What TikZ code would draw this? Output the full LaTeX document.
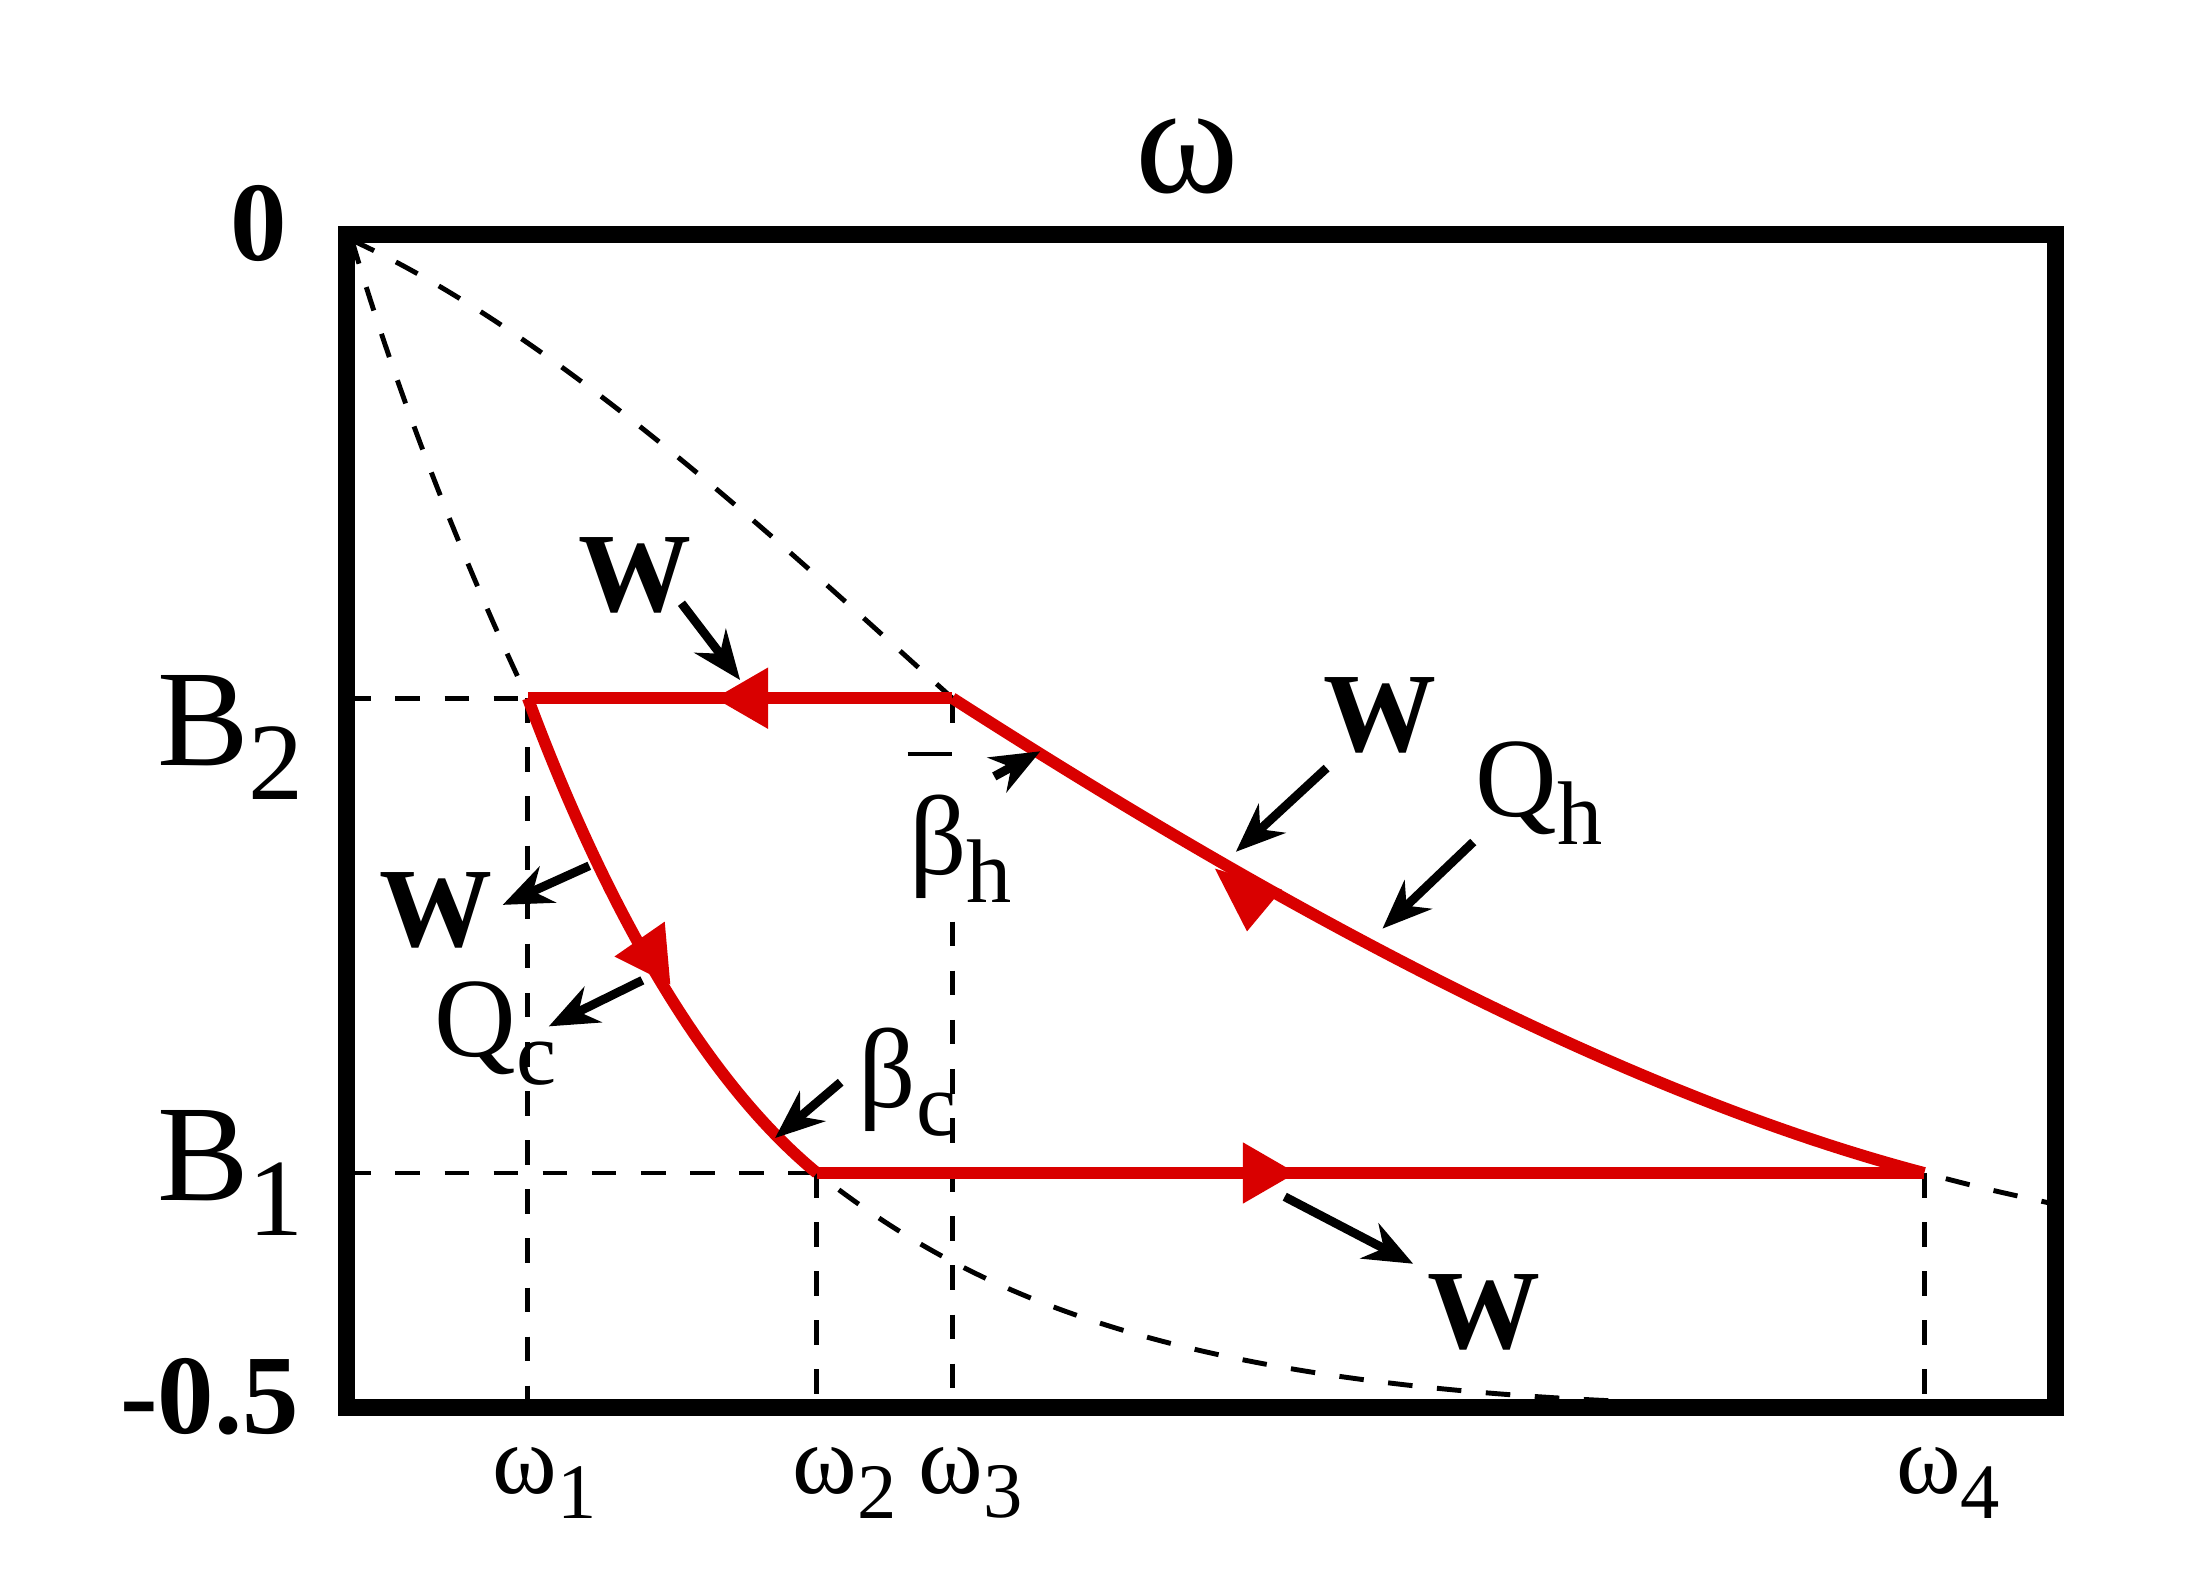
\documentclass[tikz,border=0pt]{standalone}
\usepackage{fontspec}
\setmainfont{Liberation Serif}
\usetikzlibrary{arrows.meta}
\newcommand{\sbs}[1]{\raisebox{-0.25em}{\scalebox{0.8}{#1}}}
\begin{document}
\begin{tikzpicture}[x=0.01cm,y=-0.01cm,
  dsh/.style={line width=1pt,dash pattern=on 5pt off 5pt},
  redl/.style={red!85!black,line width=2.4pt},
  blk/.style={-{Stealth[length=10pt,width=8pt]},line width=1.8pt},
  lab/.style={font=\fontsize{23}{27}\selectfont},
  wl/.style={font=\fontsize{23}{27}\selectfont\bfseries},
  om/.style={font=\fontsize{20}{24}\selectfont},
  tri/.style={fill=red!85!black}]
\useasboundingbox (0,0) rectangle (1569,1134);
% dashed curves
\draw[dsh] (252,172) .. controls (290,300) and (340,420) .. (378,500) .. controls (430,640) and (500,770) .. (585,840) .. controls (700,930) and (850,1000) .. (1250,1006);
\draw[dsh] (252,172) .. controls (400,240) and (560,390) .. (682,500) .. controls (900,640) and (1150,780) .. (1378,840) .. controls (1420,851) .. (1470,862);
% guide dashes
\draw[dsh] (248,500) -- (378,500);
\draw[dsh] (248,840) -- (585,840);
\draw[dsh] (378,500) -- (378,1008);
\draw[dsh] (585,840) -- (585,1008);
\draw[dsh] (682,500) -- (682,530);
\draw[dsh] (682,660) -- (682,1008);
\draw[dsh] (1378,840) -- (1378,1008);
\draw[line width=0.8pt] (650,540) -- (682,540);
% frame
\draw[line width=3.5pt] (248,168) rectangle (1472,1008);
% red cycle
\draw[redl] (378,500) -- (682,500);
\draw[redl] (585,840) -- (1378,840);
\draw[redl] (682,500) .. controls (900,640) and (1150,780) .. (1378,840);
\draw[redl] (378,500) .. controls (430,640) and (500,770) .. (585,840);
% arrow triangles
\fill[tri] (512,500) -- (550,478) -- (550,522) -- cycle;
\fill[tri] (928,840) -- (890,818) -- (890,862) -- cycle;
\fill[tri] (870,622) -- (918,637) -- (893,667) -- cycle;
\fill[tri] (480,705) -- (440,685) -- (476,660) -- cycle;
% labels
\node[lab] (zero) at (185,160) {\bfseries 0};
\node[lab] (mhalf) at (150,1000) {\bfseries -0.5};
\node[font=\fontsize{32}{36}\selectfont] (om) at (850,112) {ω};
\node[font=\fontsize{28}{32}\selectfont] (b2) at (165,528) {B\sbs{2}};
\node[font=\fontsize{28}{32}\selectfont] (b1) at (165,840) {B\sbs{1}};
\node[om] (o1) at (390,1062) {ω\sbs{1}};
\node[om] (o2) at (605,1062) {ω\sbs{2}};
\node[om] (o3) at (695,1062) {ω\sbs{3}};
\node[om] (o4) at (1395,1062) {ω\sbs{4}};
\node[wl] (w1) at (455,412) {W};
\node[wl] (w2) at (988,512) {W};
\node[wl] (w3) at (312,652) {W};
\node[wl] (w4) at (1063,940) {W};
\node[lab] (qh) at (1102,568) {Q\sbs{h}};
\node[lab] (qc) at (355,740) {Q\sbs{c}};
\node[lab] (bh) at (688,608) {β\sbs{h}};
\node[lab] (bc) at (650,775) {β\sbs{c}};
% black arrows
\coordinate (e1) at (530,487); \draw[blk] (488,432) -- (e1);
\coordinate (e2) at (885,610); \draw[blk] (950,550) -- (e2);
\coordinate (e3) at (990,665); \draw[blk] (1055,603) -- (e3);
\coordinate (e4) at (745,538); \draw[blk] (712,556) -- (e4);
\coordinate (e5) at (360,648); \draw[blk] (422,620) -- (e5);
\coordinate (e6) at (393,735); \draw[blk] (460,702) -- (e6);
\coordinate (e7) at (555,815); \draw[blk] (602,775) -- (e7);
\coordinate (e8) at (1012,905); \draw[blk] (920,857) -- (e8);
\end{tikzpicture}
\end{document}
